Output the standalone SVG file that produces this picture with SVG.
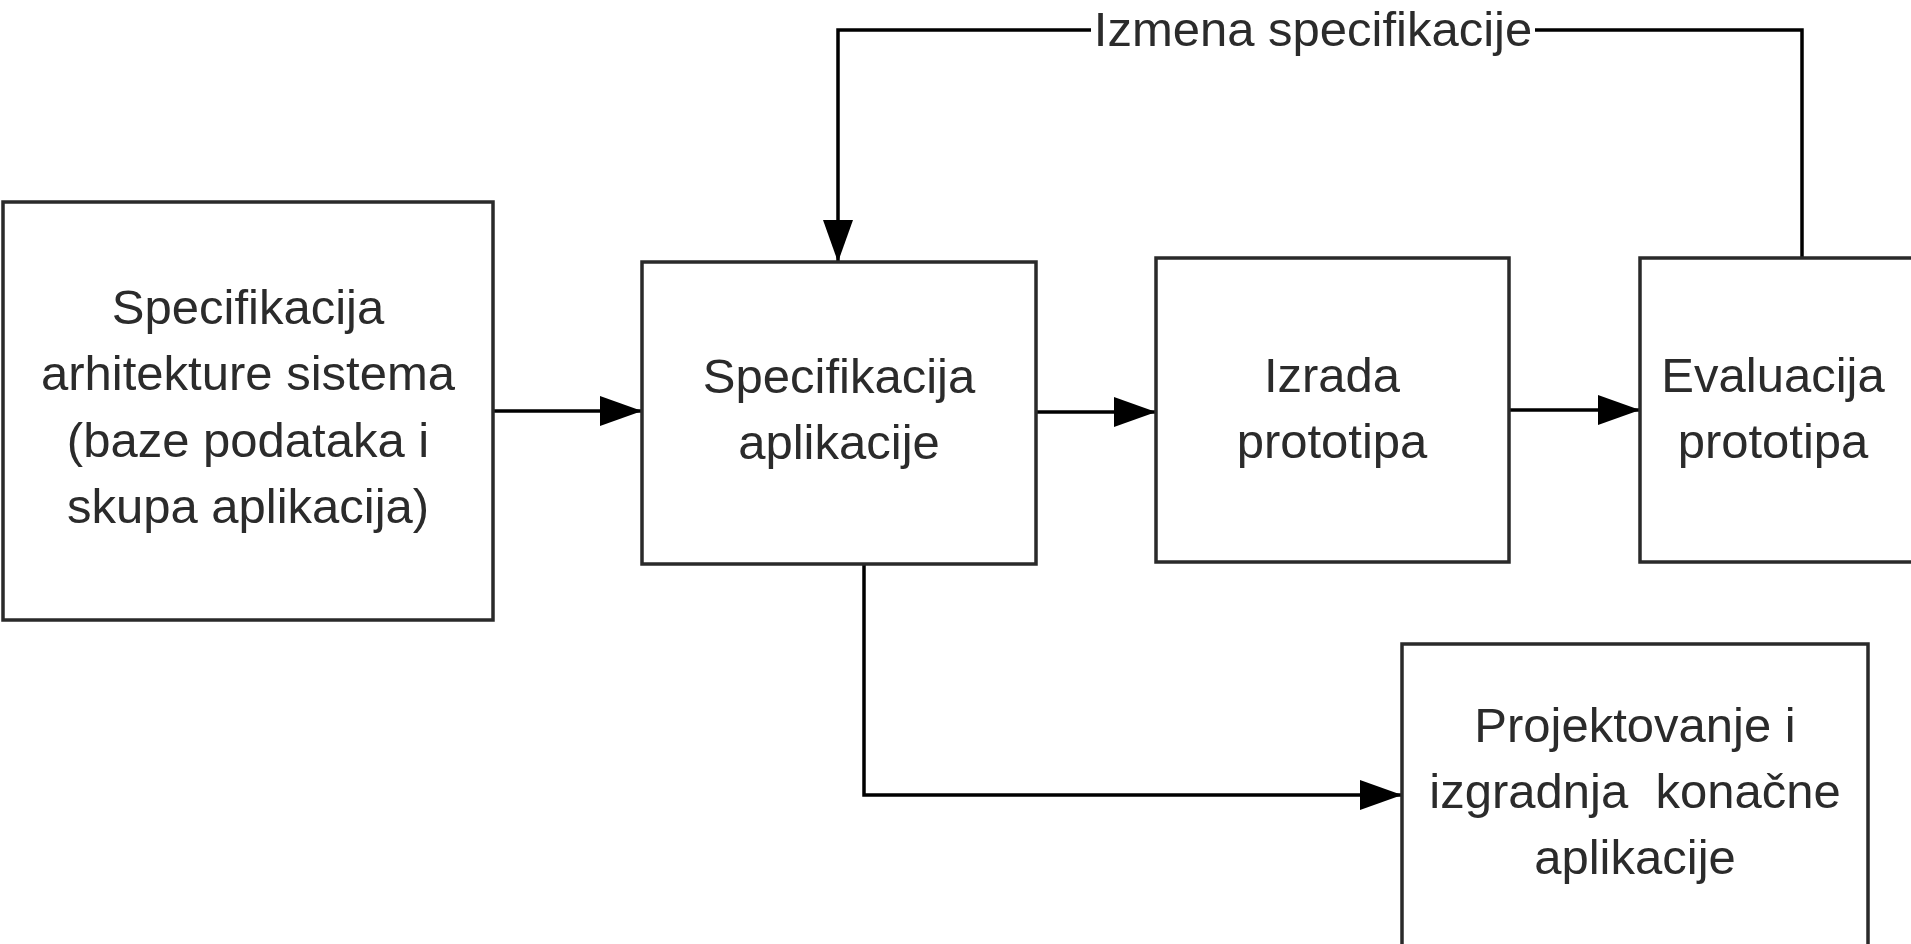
<svg xmlns="http://www.w3.org/2000/svg" width="1911" height="944" viewBox="0 0 1911 944">
<style>
.box{fill:#fff;stroke:#2a2a2a;stroke-width:3.5}
.lbl{font-family:"Liberation Sans",Arial,sans-serif;font-size:49px;fill:#2b2b2b;text-anchor:middle;white-space:pre}
.conn{fill:none;stroke:#000;stroke-width:3.5}
</style>
<defs>
<marker id="arr" viewBox="0 0 42 30" refX="42" refY="15" markerWidth="42" markerHeight="30" markerUnits="userSpaceOnUse" orient="auto">
<path d="M0,0 L42,15 L0,30 Z" fill="#000"/>
</marker>
</defs>
<rect width="1911" height="944" fill="#fff"/>
<g id="connectors">
<path class="conn" d="M493,411 L642,411" marker-end="url(#arr)"/>
<path class="conn" d="M1036,412 L1156,412" marker-end="url(#arr)"/>
<path class="conn" d="M1509,410 L1640,410" marker-end="url(#arr)"/>
<path class="conn" d="M1802,258 L1802,30 L838,30 L838,262" marker-end="url(#arr)"/>
<path class="conn" d="M864,564 L864,795 L1402,795" marker-end="url(#arr)"/>
<rect x="1091" y="8" width="444" height="48" fill="#fff"/>
<text class="lbl" x="1313" y="46">Izmena specifikacije</text>
</g>
<g id="n1">
<rect class="box" x="3" y="202" width="490" height="418"/>
<text class="lbl" x="248" y="324">Specifikacija</text>
<text class="lbl" x="248" y="390">arhitekture sistema</text>
<text class="lbl" x="248" y="457">(baze podataka i</text>
<text class="lbl" x="248" y="523">skupa aplikacija)</text>
</g>
<g id="n2">
<rect class="box" x="642" y="262" width="394" height="302"/>
<text class="lbl" x="839" y="393">Specifikacija</text>
<text class="lbl" x="839" y="459">aplikacije</text>
</g>
<g id="n3">
<rect class="box" x="1156" y="258" width="353" height="304"/>
<text class="lbl" x="1332" y="392">Izrada</text>
<text class="lbl" x="1332" y="458">prototipa</text>
</g>
<g id="n4">
<rect class="box" x="1640" y="258" width="290" height="304"/>
<text class="lbl" x="1773" y="392">Evaluacija</text>
<text class="lbl" x="1773" y="458">prototipa</text>
</g>
<g id="n5">
<rect class="box" x="1402" y="644" width="466" height="320"/>
<text class="lbl" x="1635" y="742">Projektovanje i</text>
<text class="lbl" x="1635" y="808">izgradnja  konačne</text>
<text class="lbl" x="1635" y="874">aplikacije</text>
</g>
</svg>
